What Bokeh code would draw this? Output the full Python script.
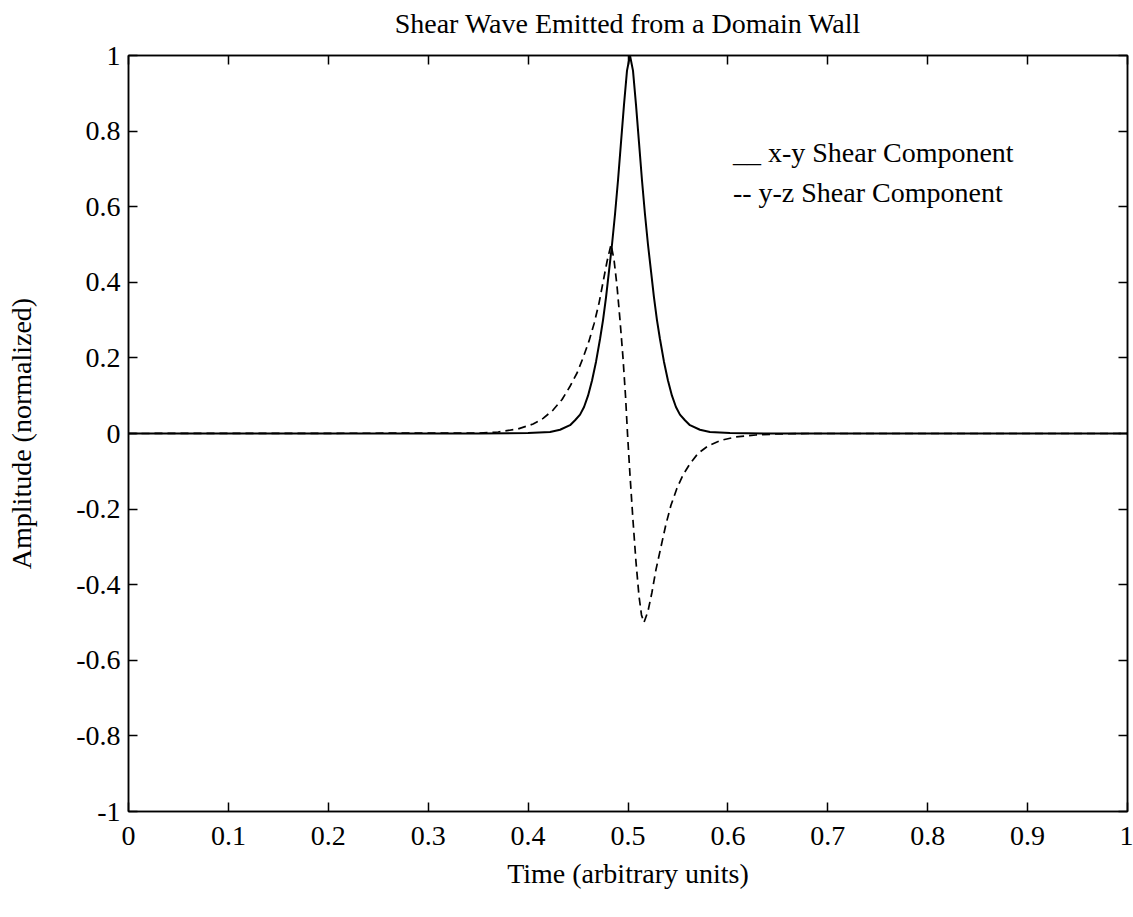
from bokeh.plotting import figure
from bokeh.models import LinearAxis, FixedTicker, Range1d, ColumnDataSource
from bokeh.core.properties import value
from bokeh.embed import file_html
from bokeh.resources import INLINE

FONT = "Liberation Serif"

# ---- data ----
xy_time = [0.0, 0.35, 0.40, 0.422, 0.432, 0.442, 0.447, 0.452, 0.456, 0.460, 0.464,
           0.468, 0.472, 0.475, 0.478, 0.481, 0.484, 0.487, 0.490, 0.493, 0.496,
           0.499, 0.502, 0.505, 0.508, 0.511, 0.514, 0.517, 0.520, 0.523, 0.526,
           0.529, 0.532, 0.536, 0.540, 0.544, 0.548, 0.552, 0.557, 0.562, 0.572,
           0.582, 0.602, 0.65, 1.0]
xy_amp = [0.0, 0.0, 0.001, 0.004, 0.010, 0.022, 0.035, 0.05, 0.07, 0.10, 0.14,
          0.19, 0.25, 0.30, 0.36, 0.43, 0.50, 0.58, 0.67, 0.77, 0.87,
          0.96, 1.00, 0.96, 0.87, 0.77, 0.67, 0.58, 0.50, 0.43, 0.36,
          0.30, 0.25, 0.19, 0.14, 0.10, 0.07, 0.05, 0.035, 0.022, 0.010,
          0.004, 0.001, 0.0, 0.0]

yz_time = [0.0, 0.35, 0.37, 0.39, 0.405, 0.415, 0.425, 0.434, 0.442, 0.449, 0.455,
           0.461, 0.466, 0.471, 0.475, 0.479, 0.483, 0.486, 0.489, 0.492, 0.495,
           0.4975, 0.4995, 0.502, 0.505, 0.508, 0.511, 0.5135, 0.516, 0.520, 0.524,
           0.528, 0.533, 0.538, 0.543, 0.549, 0.555, 0.562, 0.570, 0.580, 0.593,
           0.608, 0.628, 0.65, 0.68, 1.0]
yz_amp = [0.0, 0.001, 0.004, 0.012, 0.025, 0.04, 0.062, 0.09, 0.125, 0.16, 0.20,
          0.245, 0.29, 0.345, 0.40, 0.455, 0.50, 0.46, 0.39, 0.30, 0.20,
          0.10, 0.0, -0.11, -0.23, -0.34, -0.43, -0.48, -0.50, -0.47, -0.42,
          -0.36, -0.30, -0.24, -0.19, -0.145, -0.11, -0.08, -0.053, -0.033, -0.018,
          -0.009, -0.004, -0.001, 0.0, 0.0]

x_ticks = [0, 0.1, 0.2, 0.3, 0.4, 0.5, 0.6, 0.7, 0.8, 0.9, 1]
x_tick_labels = ["0", "0.1", "0.2", "0.3", "0.4", "0.5", "0.6", "0.7", "0.8", "0.9", "1"]
y_ticks = [-1, -0.8, -0.6, -0.4, -0.2, 0, 0.2, 0.4, 0.6, 0.8, 1]
y_tick_labels = ["-1", "-0.8", "-0.6", "-0.4", "-0.2", "0", "0.2", "0.4", "0.6", "0.8", "1"]

legend_texts = ["__ x-y Shear Component", "-- y-z Shear Component"]

title_text = "Shear Wave Emitted from a Domain Wall"
x_label = "Time (arbitrary units)"
y_label = "Amplitude (normalized)"

# ---- figure ----
p = figure(frame_width=999, frame_height=756,
           x_range=Range1d(0, 1), y_range=Range1d(-1, 1),
           output_backend="svg", toolbar_location=None,
           min_border_left=128, min_border_right=6,
           min_border_top=55, min_border_bottom=106)

bottom = p.below[0]
left = p.left[0]

p.background_fill_color = "white"
p.border_fill_color = "white"
p.xgrid.visible = False
p.ygrid.visible = False
p.outline_line_color = "black"
p.outline_line_width = 1.5

p.line(xy_time, xy_amp, line_color="black", line_width=2)
p.line(yz_time, yz_amp, line_color="black", line_width=1.7, line_dash="8 5")

top = LinearAxis()
right = LinearAxis()
p.add_layout(top, "above")
p.add_layout(right, "right")

for ax, ticks, labels in [(bottom, x_ticks, x_tick_labels),
                          (top, x_ticks, [""] * len(x_ticks)),
                          (left, y_ticks, y_tick_labels),
                          (right, y_ticks, [""] * len(y_ticks))]:
    ax.ticker = FixedTicker(ticks=ticks)
    ax.major_label_overrides = {t: l for t, l in zip(ticks, labels)}
    ax.major_tick_in = 9
    ax.major_tick_out = 0
    ax.minor_tick_line_color = None
    ax.axis_line_color = "black"
    ax.axis_line_width = 1.5
    ax.major_tick_line_color = "black"
    ax.major_tick_line_width = 1.5
    ax.major_label_text_font = FONT
    ax.major_label_text_font_size = "28px"
    ax.major_label_text_color = "black"

for ax in (top, right):
    ax.major_label_text_font_size = "1px"
    ax.major_label_standoff = 0

bottom.major_label_standoff = 15
left.major_label_standoff = 8
bottom.axis_label = x_label
left.axis_label = y_label
top.axis_label = title_text   # chart title, centred above the frame
for ax in (bottom, left, top):
    ax.axis_label_text_font = FONT
    ax.axis_label_text_font_size = "28px"
    ax.axis_label_text_font_style = "normal"
    ax.axis_label_text_color = "black"
bottom.axis_label_standoff = 10
left.axis_label_standoff = 36
top.axis_label_standoff = 17

src = ColumnDataSource(dict(x=[0.605, 0.605], y=[0.743, 0.638], t=legend_texts))
p.text(x="x", y="y", text="t", source=src, text_font=value(FONT),
       text_font_size="28px", text_baseline="alphabetic", text_align="left",
       text_color="black")

open("out.html", "w").write(file_html(p, INLINE))
